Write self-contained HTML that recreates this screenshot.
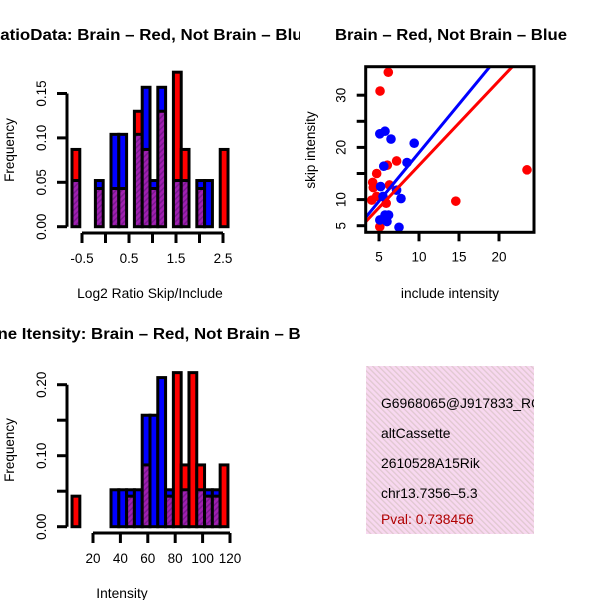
<!DOCTYPE html>
<html><head><meta charset="utf-8"><style>
html,body{margin:0;padding:0;background:#fff;}
svg{display:block;font-family:"Liberation Sans",sans-serif;}
</style></head><body>
<svg id="c" width="600" height="600" viewBox="0 0 600 600">
<defs>
<pattern id="hatch" width="4" height="4" patternUnits="userSpaceOnUse" patternTransform="rotate(45)">
<rect width="4" height="4" fill="#a020b0"/><rect width="1.5" height="4" fill="#7a1890"/>
</pattern>
<pattern id="pink" width="4" height="4" patternUnits="userSpaceOnUse" patternTransform="rotate(-45)">
<rect width="4" height="4" fill="#f8d8f0"/><rect width="1.3" height="4" fill="#e0c8d0"/>
</pattern>
<clipPath id="boxclip"><rect x="366" y="366" width="168" height="168"/></clipPath>
<clipPath id="leftclip"><rect x="0" y="0" width="300" height="600"/></clipPath>
</defs>
<g id="tl"></g>
<g id="bl"></g>
<g id="tr"></g>
<g>
<rect x="366" y="366" width="168" height="168" fill="url(#pink)"/>
<g clip-path="url(#boxclip)" font-size="13.9">
<text x="381" y="408">G6968065@J917833_RC</text>
<text x="381" y="438">altCassette</text>
<text x="381" y="468">2610528A15Rik</text>
<text x="381" y="498">chr13.7356–5.3</text>
<text x="381" y="524" fill="#b00000">Pval: 0.738456</text>
</g>
</g>
</svg>
<script>
// Top-left histogram data (Log2 ratio)
const ratioBinStart = -0.713;
const ratioBinWidth = 0.166;
const ratioRed  = [0.087,0,0,0.043,0,0.043,0.043,0,0.13,0.087,0.043,0.13,0,0.174,0.087,0,0.043,0,0,0.087];
const ratioBlue = [0.052,0,0,0.052,0,0.104,0.104,0,0.104,0.157,0.052,0.157,0,0.052,0.052,0,0.052,0.052,0,0];
const ratioXTicks = [-0.5,0.5,1.5,2.5];
const ratioXMinor = [-0.5,0,0.5,1,1.5,2,2.5];
const ratioYTicks = [0,0.05,0.10,0.15];
const ratioYLabels = ["0.00","0.05","0.10","0.15"];

// Bottom-left histogram data (Intensity)
const intBinStart = 4.7;
const intBinWidth = 5.69;
const intRed  = [0.043,0,0,0,0,0,0,0.043,0,0.087,0,0,0.043,0.217,0.087,0.217,0.087,0.043,0.043,0.087];
const intBlue = [0,0,0,0,0,0.052,0.052,0.052,0.052,0.157,0.157,0.21,0.052,0,0.052,0,0.052,0.052,0.052,0];
const intXTicks = [20,40,60,80,100,120];
const intYTicks = [0,0.05,0.10,0.15,0.20];
const intYLabels = ["0.00","","0.10","","0.20"];

// Scatter data
const redX  = [6.16,5.13,4.71,4.21,4.29,7.2,6.04,6.3,4.09,4.7,5.9,5.1,14.6,23.5];
const redY  = [34.4,30.8,15.0,13.3,12.3,17.4,16.6,12.8,9.9,10.6,9.3,4.8,9.7,15.7];
const blueX = [5.75,5.1,6.5,9.4,8.5,5.6,5.2,7.75,7.2,5.5,5.75,5.1,6.2,6.0,7.5];
const blueY = [23.1,22.6,21.6,20.8,17.1,16.4,12.5,10.2,11.8,10.6,7.05,6.1,7.05,5.8,4.7];
const redFit  = [0.36,1.62];
const blueFit = [0.39,1.86];
const scXTicks = [5,10,15,20];
const scYTicks = [5,10,15,20,25,30];
const scYLabels = ["5","10","","20","","30"];

const NS="http://www.w3.org/2000/svg";
function mk(parent,tag,attrs){const e=document.createElementNS(NS,tag);for(const k in attrs)e.setAttribute(k,attrs[k]);parent.appendChild(e);return e;}

function histogram(g,o){
  const x=v=>o.x0+(v-o.xv0)*o.xs, y=v=>o.y0-v*o.ys;
  let t=mk(g,'text',{x:150,y:o.ty,'text-anchor':'middle','font-size':16,'font-weight':'bold',textLength:o.tw,lengthAdjust:'spacingAndGlyphs','clip-path':'url(#leftclip)'});t.textContent=o.title;
  
  
  for(let i=0;i<o.red.length;i++){
    const a=o.binStart+i*o.binW, b=a+o.binW, r=o.red[i], bl=o.blue[i];
    const top=Math.max(r,bl), low=Math.min(r,bl);
    const col=r>=bl?'#ff0000':'#0000ff';
    const bx=x(a), bw=x(b)-x(a);
    let rc=mk(g,'rect',{x:bx,y:y(top),width:bw,height:y(0)-y(top),fill:col});
    
    
    if(low>0){let p=mk(g,'rect',{x:bx,y:y(low),width:bw,height:y(0)-y(low),fill:'url(#hatch)'});
      
      
      mk(g,'line',{x1:bx,x2:bx+bw,y1:y(low),y2:y(low),stroke:'#000','stroke-width':3});}
    mk(g,'rect',{x:bx,y:y(top),width:bw,height:y(0)-y(top),fill:'none',stroke:'#000','stroke-width':3});
  }
  const ya=mk(g,'g',{});
  
  
  mk(ya,'line',{x1:o.yax,x2:o.yax,y1:y(o.yt[0]),y2:y(o.yt[o.yt.length-1]),stroke:'#000','stroke-width':3});
  o.yt.forEach((v,i)=>{mk(ya,'line',{x1:o.yax-10,x2:o.yax,y1:y(v),y2:y(v),stroke:'#000','stroke-width':3});
    if(o.yl[i]){const tt=mk(ya,'text',{x:0,y:0,'font-size':13.5,'text-anchor':'middle',transform:`translate(${o.yax-21},${y(v)}) rotate(-90)`});tt.textContent=o.yl[i];}});
  let yl=mk(g,'text',{'font-size':13.5,'text-anchor':'middle',transform:`translate(14,${o.ylabY}) rotate(-90)`});yl.textContent='Frequency';
  
  
  const xa=mk(g,'g',{});
  
  
  const mn=o.xminor;
  mk(xa,'line',{x1:x(mn[0]),x2:x(mn[mn.length-1]),y1:o.xay,y2:o.xay,stroke:'#000','stroke-width':3});
  mn.forEach(v=>mk(xa,'line',{x1:x(v),x2:x(v),y1:o.xay,y2:o.xay+10,stroke:'#000','stroke-width':3}));
  o.xt.forEach(v=>{const tt=mk(xa,'text',{x:x(v),y:o.xay+30,'font-size':13.5,'text-anchor':'middle'});tt.textContent=String(v);});
  let xl=mk(g,'text',{x:o.xlabX,y:o.xay+65,'font-size':13.8,'text-anchor':'middle'});xl.textContent=o.xlab;
  
  
}

histogram(document.getElementById('tl'),{x0:82,xv0:-0.5,xs:47,y0:226.7,ys:888,binStart:ratioBinStart,binW:ratioBinWidth,
  red:ratioRed,blue:ratioBlue,yt:ratioYTicks,yl:ratioYLabels,yax:67,xminor:ratioXMinor,xt:ratioXTicks,xay:233,
  title:'RatioData: Brain – Red, Not Brain – Blue',tw:324,ty:40,xlab:'Log2 Ratio Skip/Include',xlabX:150,ylabY:150});
histogram(document.getElementById('bl'),{x0:93,xv0:20,xs:1.37,y0:526.7,ys:710,binStart:intBinStart,binW:intBinWidth,
  red:intRed,blue:intBlue,yt:intYTicks,yl:intYLabels,yax:67,xminor:intXTicks,xt:intXTicks,xay:533,
  title:'Gene Itensity: Brain – Red, Not Brain – Blue',tw:350,ty:339,xlab:'Intensity',xlabX:122,ylabY:450});

(function(){
  const g=document.getElementById('tr');
  const L=365.7,R=534,T=66.7,B=232.3;
  const x=v=>379+(v-5)*8.0, y=v=>225.7-(v-5)*5.22;
  let t=mk(g,'text',{x:451,y:40,'text-anchor':'middle','font-size':16,'font-weight':'bold',textLength:232,lengthAdjust:'spacingAndGlyphs'});t.textContent='Brain – Red, Not Brain – Blue';
  
  
  const cp=mk(g,'clipPath',{id:'scclip'});mk(cp,'rect',{x:L,y:T,width:R-L,height:B-T});
  const pg=mk(g,'g',{'clip-path':'url(#scclip)'});
  redX.forEach((v,i)=>{const c=mk(pg,'circle',{cx:x(v),cy:y(redY[i]),r:4.8,fill:'#ff0000'});
    
    });
  blueX.forEach((v,i)=>{const c=mk(pg,'circle',{cx:x(v),cy:y(blueY[i]),r:4.8,fill:'#0000ff'});
    
    });
  const xl0=(L-379)/8+5, xl1=(R-379)/8+5;
  [[blueFit,'#0000ff','blue-fit-line'],[redFit,'#ff0000','red-fit-line']].forEach(([f,c,n])=>{
    const ln=mk(pg,'line',{x1:x(xl0),y1:y(f[0]+f[1]*xl0),x2:x(xl1),y2:y(f[0]+f[1]*xl1),stroke:c,'stroke-width':3});
    
    });
  mk(g,'rect',{x:L,y:T,width:R-L,height:B-T,fill:'none',stroke:'#000','stroke-width':3});
  scXTicks.forEach(v=>{mk(g,'line',{x1:x(v),x2:x(v),y1:B,y2:B+9,stroke:'#000','stroke-width':3});
    const tt=mk(g,'text',{x:x(v),y:B+29,'font-size':13.5,'text-anchor':'middle'});tt.textContent=String(v);});
  scYTicks.forEach((v,i)=>{mk(g,'line',{x1:L-9,x2:L,y1:y(v),y2:y(v),stroke:'#000','stroke-width':3});
    if(scYLabels[i]){const tt=mk(g,'text',{'font-size':13.5,'text-anchor':'middle',transform:`translate(${L-20},${y(v)}) rotate(-90)`});tt.textContent=scYLabels[i];}});
  let xl=mk(g,'text',{x:450,y:298,'font-size':13.8,'text-anchor':'middle'});xl.textContent='include intensity';
  
  
  let yl=mk(g,'text',{'font-size':13.5,'text-anchor':'middle',transform:'translate(315,150) rotate(-90)'});yl.textContent='skip intensity';
  
  
})();
</script>
</body></html>
